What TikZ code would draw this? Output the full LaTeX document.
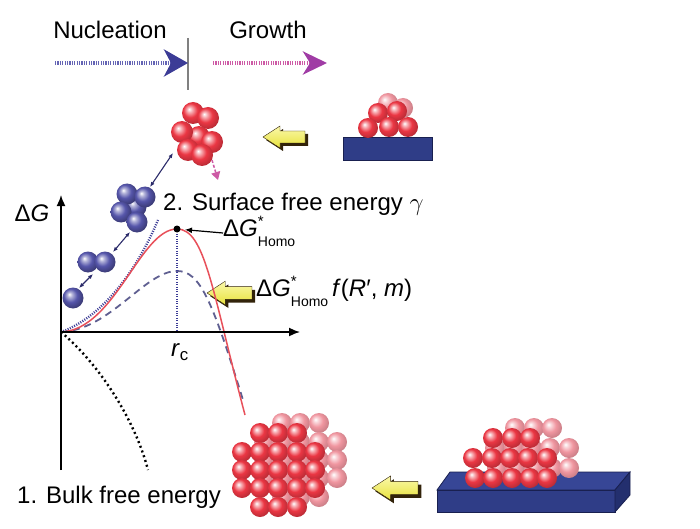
\documentclass[tikz,border=0pt]{standalone}
\usepackage{fontspec}
\setmainfont{Liberation Sans}
\usetikzlibrary{arrows.meta}
\definecolor{nucblue}{RGB}{60,60,150}
\definecolor{nucline}{RGB}{100,100,180}
\definecolor{growpink}{RGB}{205,90,165}
\definecolor{growhead}{RGB}{160,60,165}
\definecolor{slabblue}{RGB}{47,61,135}
\definecolor{slabtop}{RGB}{55,70,150}
\definecolor{slabside}{RGB}{35,47,110}
\definecolor{slabdark}{RGB}{25,32,80}
\definecolor{curvered}{RGB}{232,80,90}
\definecolor{dashblue}{RGB}{95,95,145}
\definecolor{arrowyellow}{RGB}{232,226,60}
\definecolor{arrowlight}{RGB}{250,248,170}
\definecolor{arrowshadow}{RGB}{50,35,10}
\definecolor{atomred}{RGB}{235,55,68}
\definecolor{atompale}{RGB}{240,150,160}
\definecolor{atomblue}{RGB}{85,85,170}
\pgfdeclareradialshading{redsphere}{\pgfpoint{-9bp}{9bp}}{color(0bp)=(white); color(6bp)=(atomred!40!white); color(16bp)=(atomred); color(28bp)=(atomred!80!black); color(50bp)=(atomred!60!black)}
\pgfdeclareradialshading{palesphere}{\pgfpoint{-9bp}{9bp}}{color(0bp)=(white); color(6bp)=(atompale!40!white); color(16bp)=(atompale); color(28bp)=(atompale!85!black); color(50bp)=(atompale!70!black)}
\pgfdeclareradialshading{bluesphere}{\pgfpoint{-9bp}{9bp}}{color(0bp)=(white); color(6bp)=(atomblue!45!white); color(16bp)=(atomblue); color(28bp)=(atomblue!70!black); color(50bp)=(atomblue!50!black)}
\newcommand{\homosub}{\rlap{\smash{\raisebox{0.42em}{\fontsize{15}{15}\selectfont *}}}\raisebox{-0.42em}{\fontsize{14}{14}\selectfont Homo}}
\newcommand{\yellowarrow}[3]{% tip x, tip y, length
  \begin{scope}[shift={(#1,#2)}, scale=#3/42]
    \fill[arrowshadow] (3,3) -- (20,-8) -- (20,-3) -- (45,-3) -- (45,9) -- (20,9) -- (20,14) -- cycle;
    \shade[top color=arrowlight, bottom color=arrowyellow, draw=arrowshadow, line width=0.4pt]
      (0,0) -- (17,-11) -- (17,-6) -- (42,-6) -- (42,6) -- (17,6) -- (17,11) -- cycle;
  \end{scope}}

\begin{document}
\begin{tikzpicture}[x=1pt, y=-1pt,
    lab/.style={inner sep=0pt, font=\fontsize{24}{28}\selectfont},
    atom/.style={shading=redsphere},
    paleatom/.style={shading=palesphere},
    blueatom/.style={shading=bluesphere},
    link/.style={draw=nucblue!70!black, line width=1.1pt, {Latex[length=5pt,width=4pt]}-{Latex[length=5pt,width=4pt]}}]
    \useasboundingbox (0,0) rectangle (700,529);
    % labels:
    \node[lab] (nucl) at (110,30) {Nucleation};
    \node[lab] (grow) at (268,30) {Growth};
    \node[lab] (dG) at (32,213) {Δ\textit{G}};
    \node[lab, anchor=west] (surf) at (163,204) {2. Surface free energy $\gamma$};
    \node[lab, anchor=west] (bulk) at (17,497) {1. Bulk free energy};
    \node[lab, anchor=west] (homo) at (223,233) {Δ\textit{G}\homosub};
    \node[lab, anchor=west] (homof) at (256,293) {Δ\textit{G}\homosub\,\textit{f}(\textit{R}′, \textit{m})};
    \node[lab] (rcl) at (180,352) {\textit{r}\textsubscript{c}};
    % stage arrows:
    \coordinate (nucstart) at (55,63);
    \coordinate (bar) at (188,63);
    \coordinate (growstart) at (213,63);
    \coordinate (growend) at (327,63);
    \draw[gray, line width=2pt] (188,38) -- (188,90);
    \draw[nucline, line width=4pt, dash pattern=on 1.2pt off 1.2pt,
      -{Stealth[length=24pt,width=27pt,inset=7pt,color=nucblue]}] (nucstart) -- (bar);
    \draw[growpink, line width=4pt, dash pattern=on 1.2pt off 1.2pt,
      -{Stealth[length=24pt,width=23pt,inset=7pt,color=growhead]}] (growstart) -- (growend);
    % substrate (top):
    \fill[slabblue, draw=slabdark, line width=0.8pt] (343,137) rectangle (432,160);
    \foreach \x/\y in {388/103,403/108} \shade[paleatom] (\x,\y) circle (10);
    \foreach \x/\y in {378/113,397/111,368/128,389/127,408/127} \shade[atom] (\x,\y) circle (10);
    % substrate (bottom):
    \fill[slabtop, draw=slabdark, line width=0.8pt] (437,490) -- (450,472) -- (630,472) -- (615,490) -- cycle;
    \fill[slabblue, draw=slabdark, line width=0.8pt] (437,490) rectangle (615,512);
    \fill[slabside, draw=slabdark, line width=0.8pt] (615,490) -- (630,472) -- (630,495) -- (615,512) -- cycle;
    \foreach \x/\y in {493/438,512/438,530/438,473/458,492/458,510/458,528/458,547/458,475/478,493/478,512/478,530/478,547/478}
      \shade[paleatom] (\x+22,\y-10) circle (10);
    \foreach \x/\y in {493/438,512/438,530/438,473/458,492/458,510/458,528/458,547/458,475/478,493/478,512/478,530/478,547/478}
      \shade[atom] (\x,\y) circle (10);
    % free nucleus (bottom):
    \foreach \x/\y in {260/433,278/433,297/433,242/452,260/452,278/452,297/452,315/452,242/470,260/470,278/470,297/470,315/470,242/488,260/488,278/488,297/488,315/488,260/507,278/507,297/507}
      \shade[paleatom] (\x+22,\y-10) circle (10);
    \foreach \x/\y in {260/433,278/433,297/433,242/452,260/452,278/452,297/452,315/452,242/470,260/470,278/470,297/470,315/470,242/488,260/488,278/488,297/488,315/488,260/507,278/507,297/507}
      \shade[atom] (\x,\y) circle (10);
    % yellow arrows:
    \yellowarrow{263}{137}{42}
    \yellowarrow{207}{293}{45}
    \yellowarrow{372}{488}{46}
    % clusters:
    \foreach \x/\y in {193/113,208/118,199/137,182/132,212/142,188/150,202/155} \shade[atom] (\x,\y) circle (11);
    \foreach \x/\y in {136/207,127/194,145/197,121/212,137/222} \shade[blueatom] (\x,\y) circle (10.5);
    \foreach \x/\y in {88/262,105/262,73/298} \shade[blueatom] (\x,\y) circle (10.5);
    \coordinate (m1) at (79,288);
    \coordinate (d1) at (93,274);
    \coordinate (d2) at (113,252);
    \coordinate (q1) at (130,232);
    \coordinate (q2) at (150,187);
    \coordinate (c1) at (173,153);
    \coordinate (c2) at (212,160);
    \coordinate (c3) at (218,180);
    \draw[link] (m1) -- (d1);
    \draw[link] (d2) -- (q1);
    \draw[link] (q2) -- (c1);
    \draw[growpink, line width=1.5pt, dash pattern=on 3pt off 2pt,
      -{Triangle[length=8pt,width=9pt]}] (c2) -- (c3);
    % curves:
    \coordinate (O) at (61,332);
    \coordinate (peak) at (177,229);
    \coordinate (peakb) at (177,271);
    \coordinate (rc) at (177,332);
    \draw[nucblue, line width=2.4pt, dash pattern=on 1pt off 1.4pt] (O) .. controls (100,318) and (135,275) .. (158,220);
    \draw[dashblue, line width=1.8pt, dash pattern=on 7pt off 5pt] (O) .. controls (110,330) and (145,271) .. (peakb) .. controls (200,271) and (212,300) .. (243,400);
    \draw[curvered, line width=1.5pt] (O) .. controls (115,330) and (140,229) .. (peak) .. controls (205,229) and (212,290) .. (245,415);
    \draw[black, line width=2.4pt, dash pattern=on 2pt off 3pt] (O) .. controls (100,365) and (135,420) .. (148,470);
    \draw[nucblue, line width=2.2pt, dash pattern=on 1pt off 1.4pt] (peak) -- (rc);
    \fill[black] (peak) circle (3.5);
    \draw[black, line width=1.2pt, -{Latex[length=7pt,width=6pt]}, shorten >=8pt] (homo.west) -- (peak);
    % axes:
    \draw[black, line width=1.6pt, -{Latex[length=11pt,width=9pt]}] (61,470) -- (61,195);
    \draw[black, line width=1.6pt, -{Latex[length=11pt,width=9pt]}] (O) -- (300,332);
\end{tikzpicture}
\end{document}
